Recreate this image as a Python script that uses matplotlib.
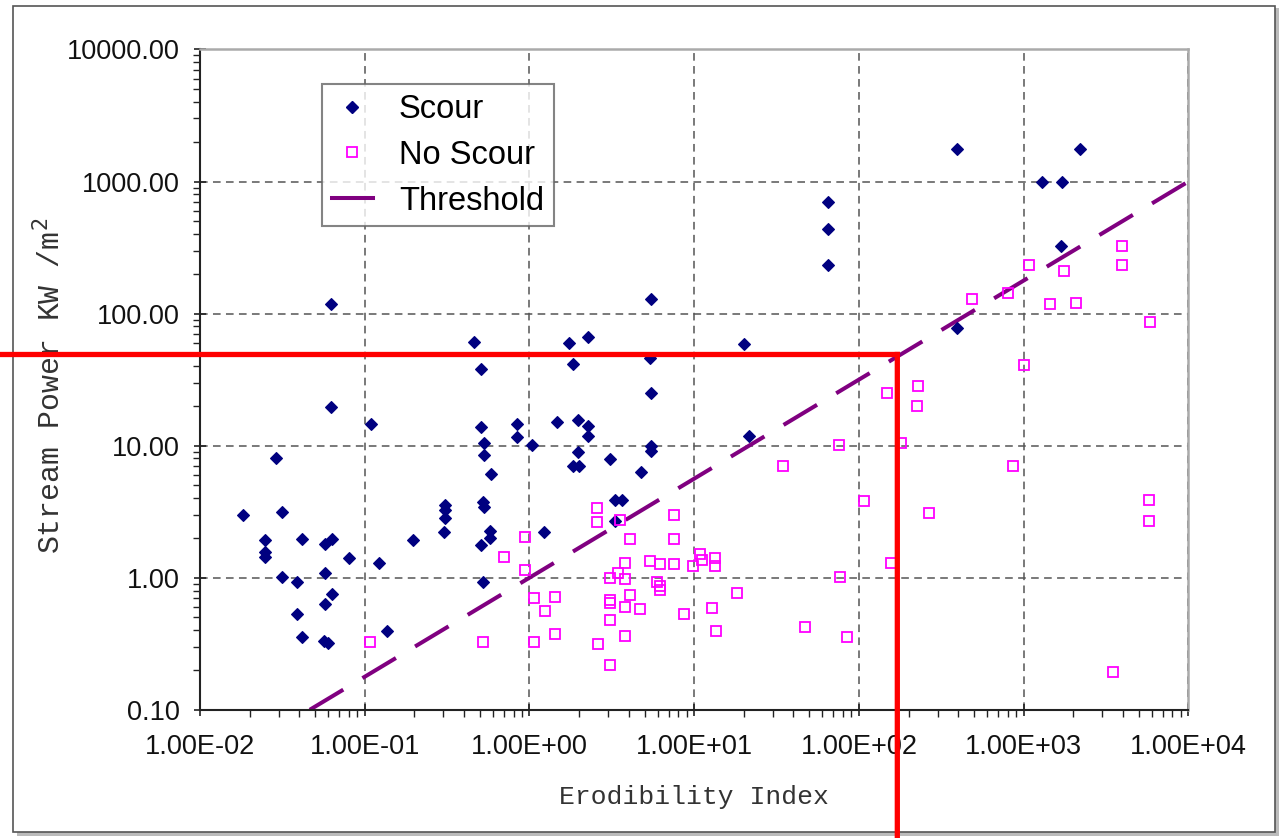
import numpy as np
import matplotlib
matplotlib.use("Agg")
import matplotlib.pyplot as plt
from matplotlib.lines import Line2D
from matplotlib.patches import Rectangle
from matplotlib.ticker import FormatStrFormatter, LogLocator, NullFormatter

# erodibility index / stream power (KW/m^2)
scour_k = [0.0183, 0.0248, 0.0248, 0.0248, 0.0289, 0.0313, 0.0313, 0.039, 0.039,
           0.0416, 0.0416, 0.0574, 0.063, 0.0574, 0.063, 0.0574, 0.0566, 0.0598,
           0.0625, 0.0625, 0.0804, 0.109, 0.122, 0.137, 0.197, 0.308, 0.308, 0.308,
           0.303, 0.461, 0.507, 0.508, 0.531, 0.531, 0.581, 0.52, 0.527, 0.577,
           0.577, 0.508, 0.52, 0.837, 0.837, 1.03, 1.22, 1.47, 1.73, 1.85, 1.98,
           2.28, 2.28, 2.28, 1.98, 1.85, 2.01, 3.09, 3.29, 3.64, 3.31, 4.76, 5.44,
           5.41, 5.46, 5.44, 5.44, 20.1, 21.4, 65.1, 65.1, 65.1, 393, 393, 1285,
           1708, 1675, 2188]
scour_p = [3.0, 1.92, 1.57, 1.43, 8.1, 3.13, 1.02, 0.93, 0.53,
           1.96, 0.354, 1.81, 1.96, 1.09, 0.747, 0.632, 0.33, 0.32,
           118, 19.7, 1.42, 14.6, 1.30, 0.395, 1.94, 3.57, 3.28, 2.85,
           2.23, 61, 38.1, 13.8, 10.4, 8.55, 6.14, 3.77, 3.45, 2.27,
           2.0, 1.76, 0.933, 14.7, 11.6, 10.2, 2.22, 15.1, 60, 41.6, 15.6,
           66, 14.2, 11.8, 8.9, 7.05, 7.05, 7.93, 3.90, 3.88, 2.70, 6.36, 129,
           46, 25.1, 10.0, 9.06, 58.8, 11.9, 697, 438, 232, 1748, 78, 1000,
           1000, 324, 1748]

noscour_k = [0.108, 0.52, 0.698, 0.935, 0.935, 1.06, 1.07, 1.24, 1.43, 1.43,
             2.58, 2.58, 2.59, 3.09, 3.47, 3.55, 3.09, 3.1, 3.09, 3.09,
             3.81, 3.81, 4.09, 4.09, 3.81, 3.81, 4.70, 5.37, 5.93, 6.21,
             6.21, 6.21, 7.56, 7.56, 7.56, 8.69, 9.84, 10.9, 11.1, 13.4,
             13.4, 12.9, 13.5, 18.2, 34.5, 47.2, 75.4, 76.4, 84.3, 108,
             149, 156, 181, 228, 226, 267, 859, 1009, 1082, 1762,
             484, 801, 1442, 2075, 3467, 3937, 3937, 5740, 5740, 5847]
noscour_p = [0.327, 0.327, 1.44, 2.03, 1.14, 0.70, 0.327, 0.556, 0.71, 0.377,
             3.37, 2.63, 0.315, 1.0, 1.09, 2.75, 0.673, 0.643, 0.481, 0.219,
             1.29, 0.977, 1.96, 0.743, 0.596, 0.365, 0.579, 1.33, 0.92, 0.86,
             0.81, 1.27, 3.0, 1.96, 1.27, 0.529, 1.23, 1.52, 1.37, 1.41,
             1.23, 0.593, 0.392, 0.766, 6.97, 0.42, 10.2, 1.02, 0.353, 3.78,
             25.1, 1.29, 10.5, 28.3, 19.9, 3.09, 6.97, 41.1, 232, 209,
             130, 142, 118, 120, 0.192, 324, 232, 3.85, 2.70, 86]

threshold_k = [0.0464, 10000]
threshold_p = [0.1, 1000]

# red marker lines drawn over the chart
mark_k = 171
mark_p = 49

fig = plt.figure(figsize=(12.82, 8.38), dpi=100)
ax = fig.add_axes([0.156, 0.153, 0.771, 0.788])

ax.plot(threshold_k, threshold_p, color="#800080", lw=2.9,
        dashes=(9.7, 5.55), solid_capstyle="butt", dash_capstyle="butt", zorder=2)
ax.plot(scour_k, scour_p, ls="none", marker="D", ms=5.8, mfc="#000080",
        mec="#000080", mew=0.8, zorder=3)
ax.plot(noscour_k, noscour_p, ls="none", marker="s", ms=7.4, mfc="none",
        mec="#FF00FF", mew=1.3, zorder=3)

ax.set_xscale("log")
ax.set_yscale("log")
ax.set_xlim(0.01, 10000)
ax.set_ylim(0.1, 10000)

ax.xaxis.set_major_locator(LogLocator(base=10, numticks=20))
ax.yaxis.set_major_locator(LogLocator(base=10, numticks=20))
ax.xaxis.set_minor_locator(LogLocator(base=10, subs=np.arange(2, 10), numticks=20))
ax.yaxis.set_minor_locator(LogLocator(base=10, subs=np.arange(2, 10), numticks=20))
ax.xaxis.set_major_formatter(FormatStrFormatter("%.2E"))
ax.yaxis.set_major_formatter(FormatStrFormatter("%.2f"))
ax.xaxis.set_minor_formatter(NullFormatter())
ax.yaxis.set_minor_formatter(NullFormatter())

ax.grid(True, which="major", color="#555555", ls=(0, (5, 3.5)), lw=1.1)
ax.tick_params(which="major", direction="inout", length=9, width=1.2, color="#222222",
               labelsize=19.5, pad=10)
ax.tick_params(which="minor", direction="out", length=5, width=1.0, color="#222222")
ax.tick_params(axis="x", which="major", pad=13)
for lab in ax.get_xticklabels() + ax.get_yticklabels():
    lab.set_fontfamily("Liberation Sans")
    lab.set_color("#111111")

for side in ["left", "bottom"]:
    ax.spines[side].set_color("#222222")
    ax.spines[side].set_linewidth(1.5)
for side in ["top", "right"]:
    ax.spines[side].set_color("#aaaaaa")
    ax.spines[side].set_linewidth(1.8)

ax.set_ylabel("Stream Power KW /m$^{2}$", fontfamily="Liberation Mono", fontsize=21.5,
              color="#333333", va="center")
ax.yaxis.set_label_coords(-0.152, 0.49)
ax.set_xlabel("Erodibility Index", fontfamily="Liberation Mono", fontsize=19,
              color="#333333", va="center")
ax.xaxis.set_label_coords(0.5, -0.132)

handles = [
    Line2D([], [], ls="none", marker="D", ms=5.8, mfc="#000080", mec="#000080"),
    Line2D([], [], ls="none", marker="s", ms=7.4, mfc="none", mec="#FF00FF", mew=1.3),
    Line2D([], [], color="#800080", lw=2.9),
]
leg = ax.legend(handles, ["Scour", "No Scour", "Threshold"], loc="upper left",
                bbox_to_anchor=(0.1235, 0.947), prop={"family": "Liberation Sans", "size": 23.5},
                frameon=True, fancybox=False, shadow=False, borderpad=0.3,
                labelspacing=0.45, handlelength=1.25, handletextpad=0.8,
                borderaxespad=0)
leg.get_frame().set_edgecolor("#666666")
leg.get_frame().set_linewidth(1.5)

# red annotation lines
red = dict(arrowstyle="-", color="#FF0000", lw=3.8, shrinkA=0, shrinkB=0,
           capstyle="projecting")
ax.annotate("", xy=(mark_k, mark_p), xytext=(0, mark_p),
            textcoords=("figure fraction", "data"), arrowprops=red,
            annotation_clip=False, zorder=6)
ax.annotate("", xy=(mark_k, mark_p), xytext=(mark_k, 0),
            textcoords=("data", "figure fraction"), arrowprops=red,
            annotation_clip=False, zorder=6)

# page frame with a soft shadow
fig.patches.append(Rectangle((0.0135, 0.002), 0.984, 0.988, transform=fig.transFigure,
                             facecolor="#bbbbbb", edgecolor="none", zorder=-2))
fig.patches.append(Rectangle((0.0102, 0.007), 0.984, 0.986, transform=fig.transFigure,
                             facecolor="white", edgecolor="#555555", lw=1.2, zorder=-1))

fig.savefig("out.png", dpi=100)
